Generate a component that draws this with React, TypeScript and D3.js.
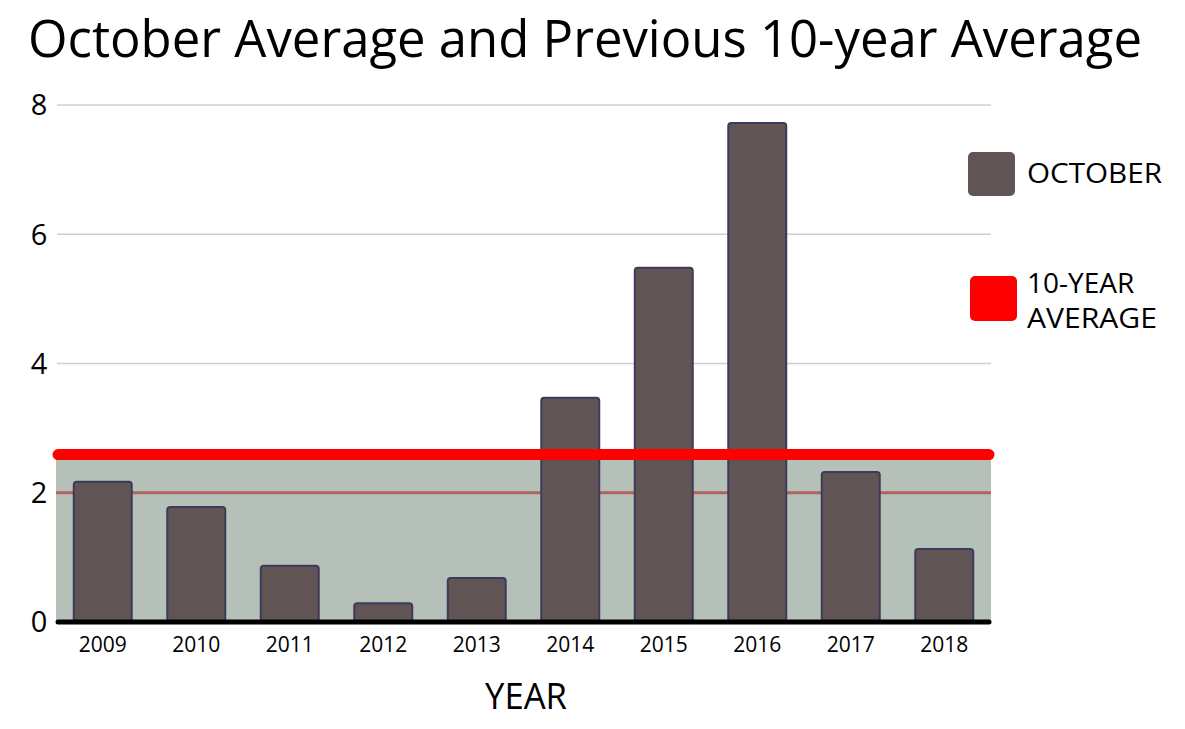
import React from "react";
import * as d3 from "d3";

const years = ["2009", "2010", "2011", "2012", "2013", "2014", "2015", "2016", "2017", "2018"];
const octoberValues = [2.17, 1.78, 0.87, 0.29, 0.68, 3.47, 5.48, 7.72, 2.32, 1.13];
const yTicks = [0, 2, 4, 6, 8];
const legendItems = ["OCTOBER", "10-YEAR AVERAGE"];

const W = 1185, H = 729;
const FONT = "'Open Sans', 'Noto Sans', sans-serif";

export default function App() {
  const avg = d3.mean(octoberValues) as number;
  const x = d3.scaleBand<string>().domain(years).range([56, 991]).paddingInner(0.38).paddingOuter(0.19);
  const y = d3.scaleLinear().domain([0, 8]).range([622, 105]);

  return (
    <svg width={W} height={H} style={{ position: "absolute", left: 0, top: 0, background: "#fff" }}>
      <text x={28} y={57} fontFamily={FONT} fontSize={51} fill="#000" textLength={1114} lengthAdjust="spacingAndGlyphs">
        October Average and Previous 10-year Average
      </text>
      {/* gridlines */}
      {yTicks.filter(t => t !== 0).map(t => (
        <line key={t} x1={57} x2={991} y1={y(t)} y2={y(t)} stroke="#cfcfcf" strokeWidth={1.5} />
      ))}
      {yTicks.map(t => (
        <text key={"l" + t} x={39} y={y(t)} dy="0.36em" textAnchor="middle" fontFamily={FONT} fontSize={29} fill="#000">
          {t}
        </text>
      ))}
      {/* shaded average area */}
      <rect x={56} y={y(avg)} width={935} height={y(0) - y(avg)} fill="#b5c0b8" />
      <line x1={56} x2={991} y1={y(2)} y2={y(2)} stroke="#b0625f" strokeWidth={3} />
      {/* bars */}
      {octoberValues.map((v, i) => (
        <rect key={years[i]} x={x(years[i])} y={y(v)} width={x.bandwidth()} height={y(0) - y(v)}
          rx={3} fill="#605554" stroke="#3e3a5c" strokeWidth={2} />
      ))}
      {/* average line */}
      <line x1={58} x2={989} y1={y(avg)} y2={y(avg)} stroke="#ff0000" strokeWidth={11} strokeLinecap="round" />
      {/* baseline */}
      <line x1={58} x2={989} y1={y(0)} y2={y(0)} stroke="#000" strokeWidth={5} strokeLinecap="round" />
      {years.map(yr => (
        <text key={"x" + yr} x={(x(yr) as number) + x.bandwidth() / 2} y={652} textAnchor="middle"
          fontFamily={FONT} fontSize={21} fill="#000">{yr}</text>
      ))}
      <text x={526} y={709} textAnchor="middle" fontFamily={FONT} fontSize={37} fill="#000"
        textLength={82} lengthAdjust="spacingAndGlyphs">YEAR</text>
      {/* legend */}
      <rect x={968} y={152} width={47} height={44} rx={5} fill="#605554" />
      <text x={1027} y={183} fontFamily={FONT} fontSize={28} fill="#000" textLength={135} lengthAdjust="spacingAndGlyphs">{legendItems[0]}</text>
      <rect x={970} y={276} width={47} height={45} rx={5} fill="#ff0000" />
      <text x={1027} y={293} fontFamily={FONT} fontSize={28} fill="#000">10-YEAR</text>
      <text x={1027} y={328} fontFamily={FONT} fontSize={28} fill="#000" textLength={130} lengthAdjust="spacingAndGlyphs">AVERAGE</text>
    </svg>
  );
}
